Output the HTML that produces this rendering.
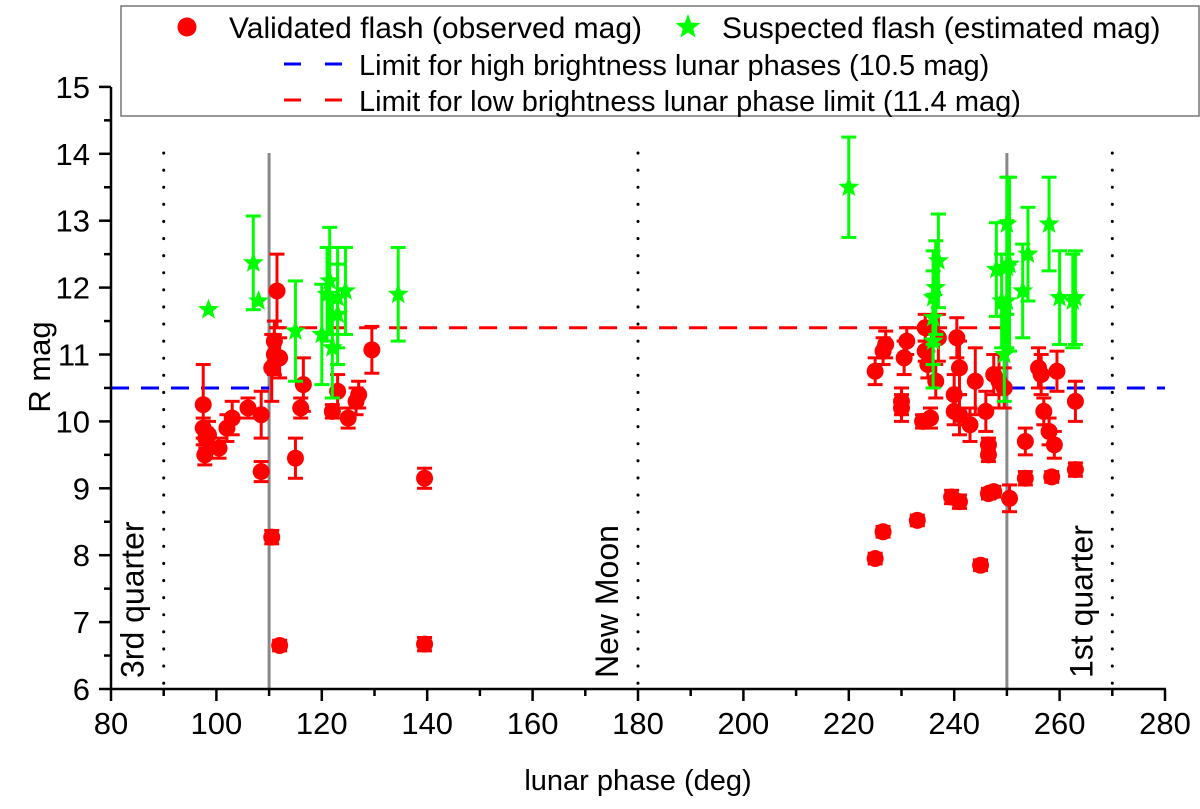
<!DOCTYPE html>
<html><head><meta charset="utf-8"><style>
body{margin:0;background:#fff}
svg{font-family:"Liberation Sans",Arial,sans-serif}
</style></head><body>
<svg id="chart" width="1200" height="804" xmlns="http://www.w3.org/2000/svg">
<g id="plot"></g>
</svg>
<script>
const redPhase=[97.5,97.5,98,97.8,98.5,100.5,102,103,106,108.5,108.5,110.5,110.5,111,111,111.5,112,112,115,116,116.5,122,123,125,126.5,127,129.5,139.5,139.5,
225,225,226.5,227,226.5,230,230,230.5,231,233,234,234.5,234.5,235,235.5,236.5,237,239.5,240,240,240.5,241,241,241,243,244,245,246,246.5,246.5,246.5,247.5,247.5,248.5,249.5,250.5,253.5,253.5,256,256.5,257,258,258.5,259,259.5,263,263];
const redMag=[10.25,9.9,9.75,9.5,9.8,9.6,9.9,10.05,10.2,10.1,9.25,8.27,10.8,11.2,11.0,11.95,10.95,6.65,9.45,10.2,10.55,10.15,10.45,10.05,10.3,10.4,11.07,9.15,6.67,
10.75,7.95,11.05,11.15,8.35,10.3,10.2,10.95,11.2,8.52,10.0,11.05,11.4,10.85,10.05,10.6,11.25,8.87,10.4,10.15,11.25,10.1,10.8,8.8,9.95,10.6,7.85,10.15,9.5,9.65,8.92,10.7,8.95,10.6,10.5,8.85,9.7,9.15,10.8,10.7,10.15,9.85,9.17,9.65,10.75,10.3,9.28];
const redErr=[0.6,0.15,0.15,0.15,0.2,0.15,0.2,0.25,0.15,0.35,0.15,0.1,0.5,0.3,0.3,0.55,0.3,0.08,0.3,0.15,0.4,0.1,0.25,0.15,0.2,0.2,0.35,0.15,0.1,
0.2,0.08,0.2,0.2,0.08,0.2,0.2,0.25,0.2,0.08,0.1,0.15,0.2,0.2,0.15,0.25,0.35,0.1,0.3,0.2,0.3,0.3,0.4,0.1,0.25,0.5,0.08,0.3,0.1,0.1,0.08,0.3,0.08,0.4,0.3,0.2,0.2,0.1,0.3,0.3,0.2,0.2,0.08,0.2,0.3,0.3,0.1];
const greenPhase=[98.5,107,108,115,120,121,121.5,122,123,123,124.5,134.5,220,236,236,236.5,237,236,248,249,249.5,250,250,250,250.5,253,254,258,260,262.5,263];
const greenMag=[11.67,12.37,11.8,11.35,11.3,11.9,12.1,11.1,11.6,11.85,11.95,11.9,13.5,11.55,11.85,12.0,12.4,11.2,12.27,11.8,11.0,12.3,12.95,11.8,12.35,11.95,12.5,12.95,11.85,11.8,11.85];
const greenErr=[0,0.7,0,0.75,0.75,0.7,0.8,0.75,0.75,0.75,0.65,0.7,0.75,0.7,0.7,0.7,0.7,0.7,0.7,0.7,0.7,0.7,0.7,0.7,1.3,0.7,0.7,0.7,0.7,0.7,0.7];
const xTicks=[80,100,120,140,160,180,200,220,240,260,280];
const yTicks=[6,7,8,9,10,11,12,13,14,15];
const limitHigh=10.5, limitLow=11.4;

const X=d=>111+(d-80)*5.27;
const Y=m=>689-(m-6)*66.9;
const NS='http://www.w3.org/2000/svg';
const g=document.getElementById('plot');
function mk(t,a,p){const e=document.createElementNS(NS,t);for(const k in a)e.setAttribute(k,a[k]);(p||g).appendChild(e);return e;}

[90,180,270].forEach(d=>{
 const l=mk('line',{x1:X(d),x2:X(d),y1:153,y2:689,stroke:'#000','stroke-width':3,'stroke-dasharray':'0.1 17','stroke-linecap':'round'});
 
 
});
[110,250].forEach(d=>{
 const l=mk('line',{x1:X(d),x2:X(d),y1:153,y2:689,stroke:'#888','stroke-width':3});
 
 
});
let lh=mk('line',{x1:X(80),x2:X(110),y1:Y(limitHigh),y2:Y(limitHigh),stroke:'#00f','stroke-width':3,'stroke-dasharray':'18 12'});


let lh2=mk('line',{x1:X(250),x2:X(280),y1:Y(limitHigh),y2:Y(limitHigh),stroke:'#00f','stroke-width':3,'stroke-dasharray':'18 12'});


let ll=mk('line',{x1:X(110),x2:X(250),y1:Y(limitLow),y2:Y(limitLow),stroke:'#f00','stroke-width':3,'stroke-dasharray':'18 12'});



redPhase.forEach((d,i)=>{
 const x=X(d),y=Y(redMag[i]),e=redErr[i];
 const gr=mk('g',{});
 
 
 mk('line',{x1:x,x2:x,y1:Y(redMag[i]+e),y2:Y(redMag[i]-e),stroke:'#f00','stroke-width':3},gr);
 [e,-e].forEach(s=>mk('line',{x1:x-7.5,x2:x+7.5,y1:Y(redMag[i]+s),y2:Y(redMag[i]+s),stroke:'#f00','stroke-width':3},gr));
 mk('circle',{cx:x,cy:y,r:8.5,fill:'#f00'},gr);
});
function star(cx,cy,r){let p=[];for(let k=0;k<10;k++){const a=-Math.PI/2+k*Math.PI/5,rr=k%2?r*0.42:r;p.push((cx+rr*Math.cos(a)).toFixed(1)+','+(cy+rr*Math.sin(a)).toFixed(1));}return p.join(' ');}
greenPhase.forEach((d,i)=>{
 const x=X(d),y=Y(greenMag[i]),e=greenErr[i];
 const gr=mk('g',{});
 
 
 if(e>0){
  mk('line',{x1:x,x2:x,y1:Y(greenMag[i]+e),y2:Y(greenMag[i]-e),stroke:'#0f0','stroke-width':3},gr);
  [e,-e].forEach(s=>mk('line',{x1:x-7.5,x2:x+7.5,y1:Y(greenMag[i]+s),y2:Y(greenMag[i]+s),stroke:'#0f0','stroke-width':3},gr));
 }
 mk('polygon',{points:star(x,y,11),fill:'#0f0'},gr);
});

const ax=mk('g',{});


mk('line',{x1:111,x2:111,y1:87,y2:690,stroke:'#000','stroke-width':2.5},ax);
mk('line',{x1:110,x2:1166,y1:689,y2:689,stroke:'#000','stroke-width':2.5},ax);
xTicks.forEach(t=>{
 mk('line',{x1:X(t),x2:X(t),y1:689,y2:701,stroke:'#000','stroke-width':2.5},ax);
 if(t<280)mk('line',{x1:X(t+10),x2:X(t+10),y1:689,y2:696,stroke:'#000','stroke-width':2.5},ax);
 const tx=mk('text',{x:X(t),y:734,'font-size':31,'text-anchor':'middle'},ax);tx.textContent=t;
 
 
});
yTicks.forEach(t=>{
 mk('line',{x1:99,x2:111,y1:Y(t),y2:Y(t),stroke:'#000','stroke-width':2.5},ax);
 if(t<15)mk('line',{x1:104,x2:111,y1:Y(t+0.5),y2:Y(t+0.5),stroke:'#000','stroke-width':2.5},ax);
 const tx=mk('text',{x:90,y:Y(t)+11,'font-size':31,'text-anchor':'end'},ax);tx.textContent=t;
 
 
});
let xt=mk('text',{x:638,y:790,'font-size':29,'text-anchor':'middle'});xt.textContent='lunar phase (deg)';


let yt=mk('text',{x:0,y:0,'font-size':31,'text-anchor':'middle',transform:'translate(50,367) rotate(-90)'});yt.textContent='R mag';


[['3rd quarter',90],['New Moon',180],['1st quarter',270]].forEach(([s,d])=>{
 const t=mk('text',{x:0,y:0,'font-size':32,'text-anchor':'start',transform:`translate(${X(d)-20},678) rotate(-90)`});t.textContent=s;
 
 
});

const lg=mk('g',{});


mk('rect',{x:121,y:6,width:1078,height:110,fill:'#fff',stroke:'#777','stroke-width':1.5},lg);
mk('circle',{cx:187,cy:27,r:9.5,fill:'#f00'},lg);
let t1=mk('text',{x:229,y:38,'font-size':30},lg);t1.textContent='Validated flash (observed mag)';
mk('polygon',{points:star(688,27,13),fill:'#0f0'},lg);
let t2=mk('text',{x:722,y:38,'font-size':30},lg);t2.textContent='Suspected flash (estimated mag)';
mk('line',{x1:284,x2:342,y1:64,y2:64,stroke:'#00f','stroke-width':3,'stroke-dasharray':'17 24'},lg);
let t3=mk('text',{x:359,y:75,'font-size':29},lg);t3.textContent='Limit for high brightness lunar phases (10.5 mag)';
mk('line',{x1:284,x2:342,y1:100,y2:100,stroke:'#f00','stroke-width':3,'stroke-dasharray':'17 24'},lg);
let t4=mk('text',{x:359,y:111,'font-size':29},lg);t4.textContent='Limit for low brightness lunar phase limit (11.4 mag)';
[t1,t2,t3,t4].forEach(t=>{});
</script>
</body></html>
